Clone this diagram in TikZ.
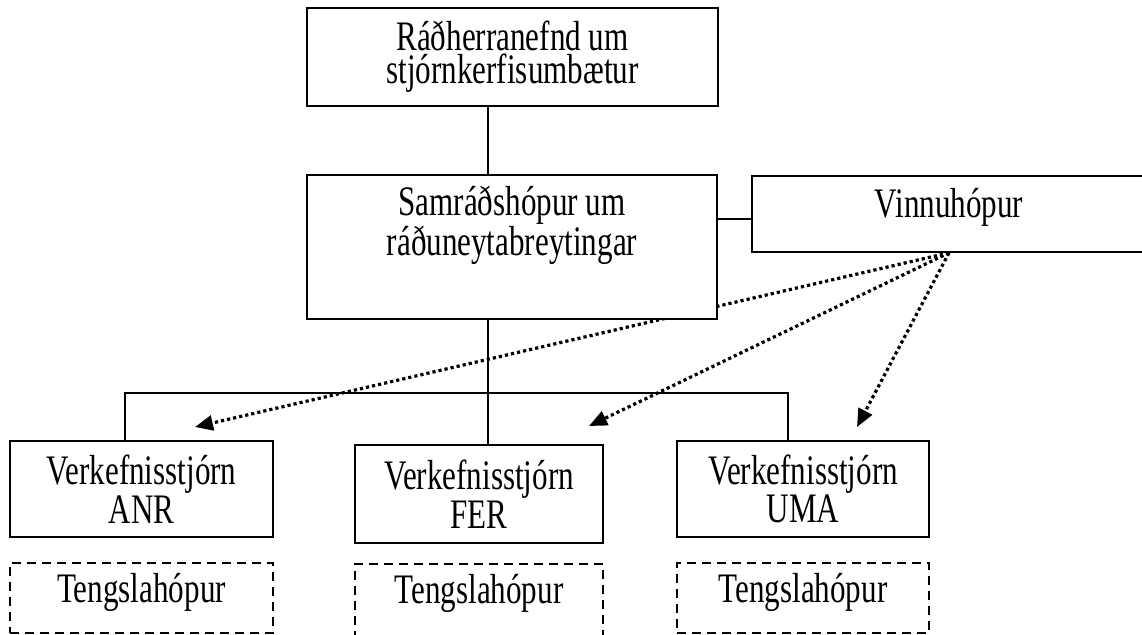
\documentclass[tikz,border=0pt]{standalone}
\usepackage{fontspec}
\setmainfont{Liberation Serif}[FakeStretch=0.74]
\usetikzlibrary{arrows.meta,positioning,backgrounds}

\begin{document}
\begin{tikzpicture}[x=0.5pt, y=-0.5pt,
    font=\fontsize{21pt}{16.5pt}\selectfont,
    box/.style={draw, line width=0.9pt, fill=white, align=center, inner sep=0pt},
    linkbox/.style={draw, dash pattern=on 4.5pt off 3pt, line width=0.9pt,
                    inner sep=0pt, text height=20pt, anchor=north},
    txt/.style={align=center, inner sep=0pt},
    conn/.style={line width=0.9pt},
    dots/.style={line width=1.6pt, dash pattern=on 1.6pt off 1.5pt,
                 -{Triangle[length=9pt, width=7.5pt]}}]

    \useasboundingbox (0,0) rectangle (1142,634);

    % ministers and working groups
    \node[box, minimum width=205.5pt, minimum height=49pt] (radh) at (512.5,57) {Ráðherranefnd um\\stjórnkerfisumbætur};
    \node[box, minimum width=205pt, minimum height=72pt] (samr) at (512,247) {};
    \node[txt] (samrtxt) at (512,225) {Samráðshópur um\\ráðuneytabreytingar};
    \node[box, minimum width=197pt, text height=21pt, text depth=17pt, anchor=north] (vinnu) at (949,175) {Vinnuhópur};

    % project boards
    \node[box, minimum width=131.5pt, minimum height=48pt] (anr) at (141.5,489) {Verkefnisstjórn\\ANR};
    \node[box, minimum width=124pt, minimum height=49pt] (fer) at (479,494) {Verkefnisstjórn\\FER};
    \node[box, minimum width=126pt, minimum height=48pt] (uma) at (803,489) {Verkefnisstjórn\\UMA};

    \node[linkbox, minimum width=131.5pt, text depth=15pt] (anrlink) at (141.5,562) {Tengslahópur};
    \node[linkbox, minimum width=124pt, text depth=21pt] (ferlink) at (479,563) {Tengslahópur};
    \node[linkbox, minimum width=126pt, text depth=15pt] (umalink) at (803,562) {Tengslahópur};

    \coordinate (bus) at (488,393);
    \coordinate (anrdrop) at (125,393);
    \coordinate (umadrop) at (788,393);
    \coordinate (side) at (735,219);
    \coordinate (anrtip) at (195,427);
    \coordinate (fertip) at (589,426);
    \coordinate (umatip) at (857,427);

    \draw[conn] (bus |- radh.south) -- (bus |- samr.north);
    \draw[conn] (bus |- samr.south) -- (bus |- fer.north);
    \draw[conn] (anrdrop |- anr.north) -- (anrdrop) -- (umadrop) -- (umadrop |- uma.north);
    \draw[conn] (samr.east |- side) -- (vinnu.west |- side);

    \begin{scope}[on background layer]
        \foreach \t in {anrtip, fertip, umatip}
            \draw[dots] (vinnu.south) -- (\t);
    \end{scope}
\end{tikzpicture}
\end{document}
